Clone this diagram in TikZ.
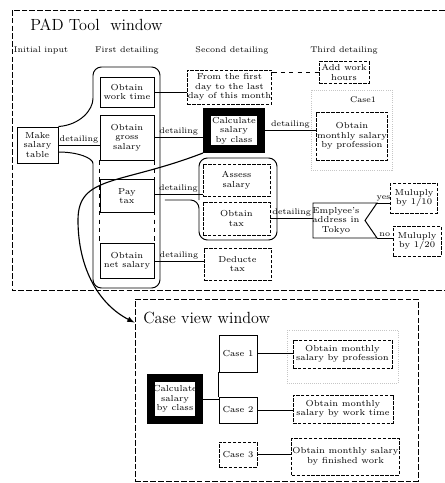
\documentclass[tikz,border=0pt]{standalone}
\usepackage{tikz}
\usetikzlibrary{arrows, positioning, calc}
\newcommand{\padsmall}{\fontsize{6.2}{6.8}\selectfont}
\newcommand{\padlabel}{\fontsize{5.9}{6.5}\selectfont}
\newcommand{\padtitle}{\fontsize{11.5}{13}\selectfont}

\begin{document}
\begin{tikzpicture}[x=0.025cm, y=-0.025cm,
    sz/.style 2 args={minimum width=#1*0.025cm, minimum height=#2*0.025cm},
    box/.style={draw, line width=0.7pt, align=center, inner sep=0.5pt, font=\padsmall},
    dbox/.style={box, dash pattern=on 2.5pt off 1pt},
    blackbox/.style={box, line width=0.2cm},
    bubble/.style={line width=0.7pt, rounded corners=6pt},
    conn/.style={line width=0.7pt},
    lbl/.style={font=\padlabel, inner sep=1pt},
    winframe/.style={line width=0.6pt, dash pattern=on 4pt off 1.5pt},
    faint/.style={gray!45, densely dotted, line width=0.5pt}]

\useasboundingbox (0,0) rectangle (445,483);

% PAD Tool window
\draw[winframe] (445,10) -- (12,10) -- (12,290) -- (445,290);
\node[anchor=west, font=\padtitle, inner sep=0pt] (padtitle) at (30,25) {PAD Tool\ \ window};
\node[lbl] (hinit) at (41,50) {Initial input};
\node[lbl] (hfirst) at (127,50) {First detailing};
\node[lbl] (hsecond) at (232,50) {Second detailing};
\node[lbl] (hthird) at (344,50) {Third detailing};

% initial input and first detailing
\node[box, sz={41}{36}] (make) at (37.5,145) {Make\\salary\\table};
\node[box, sz={54}{30}] (wtime) at (127,92) {Obtain\\work time};
\node[box, sz={54}{45}] (gross) at (127,137.5) {Obtain\\gross\\salary};
\node[box, sz={54}{33}] (paytax) at (127,196) {Pay\\tax};
\node[box, sz={54}{35}] (netsal) at (127,261) {Obtain\\net salary};
\draw[conn, dashed] (gross.south west) -- (netsal.north west)
                    (gross.south east) -- (netsal.north east);
\coordinate (maketap) at ([yshift=-0.175cm]make.east);
\draw[bubble] (make.north east) .. controls (80,125) and (93,110) .. (93,90)
    -- (93,67) -- (160,67) -- (160,288) -- (93,288) -- (93,172)
    .. controls (93,158) and (78,152) .. (maketap);
\draw[conn] (make.east) -- (make.east -| gross.west) node[lbl, midway, above] {detailing};

% second detailing
\node[dbox, sz={74}{34}] (firstday) at (229.5,87) {From the first\\day to the last\\day of this month};
\node[blackbox, sz={54}{37}] (calcsal) at (234,130.5) {Calculate\\salary\\by class};
\node[dbox, sz={67}{32}] (assess) at (236.5,180) {Assess\\salary};
\node[dbox, sz={67}{33}] (obtax) at (236.5,218.5) {Obtain\\tax};
\node[dbox, sz={67}{32}] (deduct) at (237.5,264) {Deducte\\tax};
\coordinate (paytap) at ([yshift=0.05cm]paytax.east);
\draw[bubble] (199,200) -- (199,158) -- (277,158) -- (277,240) -- (199,240) -- (199,200) -- (165,200);

\draw[conn] (wtime.east) -- (wtime.east -| firstday.west);
\draw[conn] (gross.east) -- (gross.east -| calcsal.west) node[lbl, midway, above] {detailing};
\draw[conn] (paytap) -- (paytap -| assess.west) node[lbl, midway, above] {detailing};
\draw[conn] (netsal.east) -- (netsal.east -| deduct.west) node[lbl, midway, above] {detailing};

% third detailing
\node[dbox, sz={50}{22}] (addhours) at (344,72.5) {Add work\\hours};
\draw[faint] (311,90) rectangle (392,170);
\node[lbl] (case1lbl) at (363,100) {Case1};
\node[dbox, sz={71}{48}] (profsal) at (352,136) {Obtain\\monthly salary\\by profession};
\node[align=center, font=\padsmall, inner sep=0pt] (addr) at (336,220.5) {Emplyee's\\address in\\Tokyo};
\coordinate (dnw) at (313,203);
\coordinate (dne) at (377,203);
\coordinate (dnotch) at (365,220.5);
\coordinate (dse) at (377,238);
\coordinate (dsw) at (313,238);
\draw[conn] (dnw) -- (dne) -- (dnotch) -- (dse) -- (dsw) -- cycle;
\node[dbox, sz={47}{30}] (mul1) at (414,198) {Muluply\\by 1/10};
\node[dbox, sz={48}{30}] (mul2) at (417,241) {Muluply\\by 1/20};

\draw[conn, dashed] (firstday.east |- addhours.west) -- (addhours.west);
\draw[conn] (calcsal.east) -- (calcsal.east -| profsal.west) node[lbl, midway, above] {detailing};
\draw[conn] (obtax.east) -- (obtax.east -| dnw) node[lbl, midway, above] {detailing};
\draw[conn] (dne) -- (dne -| mul1.west) node[lbl, midway, above] {yes};
\draw[conn] (dse) -- (dse -| mul2.west) node[lbl, midway, above] {no};

% Case view window
\node[draw, winframe, sz={283}{182}] (cvwin) at (276.5,390) {};
\node[anchor=west, font=\padtitle, inner sep=0pt] (cvtitle) at (143,318) {Case view window};
\coordinate (cvtap) at ([yshift=-0.6cm]cvwin.north west);
\draw[conn, -latex, line width=0.8pt] (calcsal.south west) .. controls (120,185) and (78,175) .. (78,220)
    .. controls (78,270) and (100,305) .. (cvtap);

\node[blackbox, sz={48}{42}] (ccalc) at (175,399) {Calculate\\salary\\by class};
\node[box, sz={38}{37}] (case1) at (238,353.5) {Case 1};
\node[box, sz={38}{26}] (case2) at (238,410) {Case 2};
\node[dbox, sz={38}{25}] (case3) at (238,454.5) {Case 3};
\draw[faint] (287,330) rectangle (398,383);
\node[dbox, sz={99}{28}] (cprof) at (342.5,354) {Obtain monthly\\salary by profession};
\node[dbox, sz={100}{28}] (cwork) at (343,409) {Obtain monthly\\salary by work time};
\node[dbox, sz={106}{37}] (cfin) at (345.5,456.5) {Obtain monthly salary\\by finished work};

\draw[conn] (ccalc.east) -- (ccalc.east -| case2.west);
\draw[conn] (case1.south west) -- (case2.north west);
\draw[conn] (case1.east) -- (case1.east -| cprof.west);
\draw[conn] (case2.east) -- (case2.east -| cwork.west);
\draw[conn] (case3.east) -- (case3.east -| cfin.west);
\end{tikzpicture}
\end{document}
